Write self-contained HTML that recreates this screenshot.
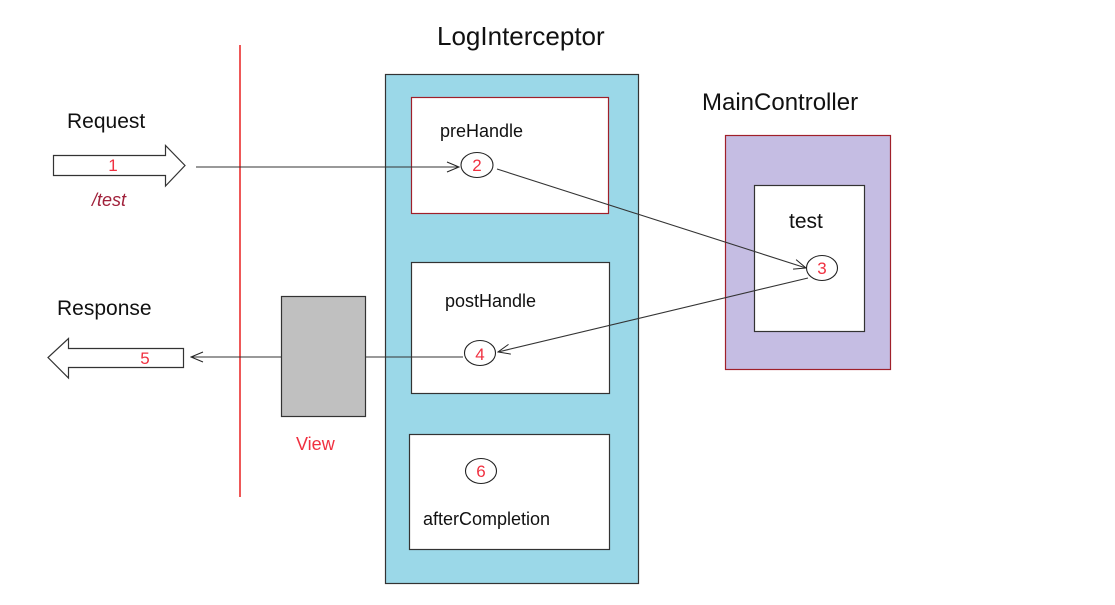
<!DOCTYPE html>
<html><head><meta charset="utf-8"><style>
html,body{margin:0;padding:0;background:#fff;}
svg{display:block;}
text{font-family:"Liberation Sans",sans-serif;}
</style></head><body>
<svg width="1115" height="605" viewBox="0 0 1115 605" xmlns="http://www.w3.org/2000/svg">
<defs>
<marker id="ah" markerWidth="14" markerHeight="12" refX="13" refY="6" orient="auto" markerUnits="userSpaceOnUse">
<path d="M1,1 L13,6 L1,11" fill="none" stroke="#222" stroke-width="1"/>
</marker>
</defs>
<line x1="240" y1="45" x2="240" y2="497" stroke="#e82020" stroke-width="1.5"/>
<rect x="385.5" y="74.5" width="253" height="509" fill="#9bd8e8" stroke="#333" stroke-width="1.2"/>
<rect x="411.5" y="97.5" width="197" height="116" fill="#fff" stroke="#a0202a" stroke-width="1.2"/>
<rect x="411.5" y="262.5" width="198" height="131" fill="#fff" stroke="#333" stroke-width="1.2"/>
<rect x="409.5" y="434.5" width="200" height="115" fill="#fff" stroke="#333" stroke-width="1.2"/>
<rect x="725.5" y="135.5" width="165" height="234" fill="#c5bde3" stroke="#a0202a" stroke-width="1.2"/>
<rect x="754.5" y="185.5" width="110" height="146" fill="#fff" stroke="#333" stroke-width="1.2"/>
<rect x="281.5" y="296.5" width="84" height="120" fill="#c0c0c0" stroke="#333" stroke-width="1.2"/>
<path d="M53.5,155.5 H165.5 V145.5 L185,165.5 L165.5,186 V175.5 H53.5 Z" fill="#fff" stroke="#333" stroke-width="1.2"/>
<path d="M183.5,348.5 H68.5 V338.5 L48,357.5 L68.5,378 V367.5 H183.5 Z" fill="#fff" stroke="#333" stroke-width="1.2"/>
<line x1="196" y1="167" x2="459" y2="167" stroke="#333" stroke-width="1.1" marker-end="url(#ah)"/>
<line x1="497" y1="169" x2="806" y2="268" stroke="#333" stroke-width="1.1" marker-end="url(#ah)"/>
<line x1="808" y1="278" x2="498" y2="352" stroke="#333" stroke-width="1.1" marker-end="url(#ah)"/>
<line x1="463" y1="357" x2="366" y2="357" stroke="#333" stroke-width="1.1"/>
<line x1="281" y1="357" x2="191" y2="357" stroke="#333" stroke-width="1.1" marker-end="url(#ah)"/>
<ellipse cx="477" cy="165" rx="16" ry="12.5" fill="#fff" stroke="#222" stroke-width="1.1"/>
<ellipse cx="822" cy="268" rx="15.5" ry="12.5" fill="#fff" stroke="#222" stroke-width="1.1"/>
<ellipse cx="480" cy="353" rx="15.5" ry="12.5" fill="#fff" stroke="#222" stroke-width="1.1"/>
<ellipse cx="481" cy="471" rx="15.5" ry="12.5" fill="#fff" stroke="#222" stroke-width="1.1"/>
<g fill="#f03040" font-size="17" text-anchor="middle">
<text x="477" y="171">2</text>
<text x="822" y="274">3</text>
<text x="480" y="360">4</text>
<text x="481" y="477">6</text>
<text x="113" y="171">1</text>
<text x="145" y="364">5</text>
</g>
<g fill="#111">
<text x="437" y="45" font-size="26">LogInterceptor</text>
<text x="702" y="110" font-size="24">MainController</text>
<text x="67" y="128" font-size="21">Request</text>
<text x="57" y="315" font-size="21">Response</text>
<text x="440" y="137" font-size="18">preHandle</text>
<text x="445" y="307" font-size="18">postHandle</text>
<text x="423" y="525" font-size="18">afterCompletion</text>
<text x="789" y="228" font-size="21">test</text>
</g>
<text x="92" y="206" font-size="18" fill="#a0203a" font-style="italic">/test</text>
<text x="296" y="450" font-size="18" fill="#f03040">View</text>
</svg>
</body></html>
